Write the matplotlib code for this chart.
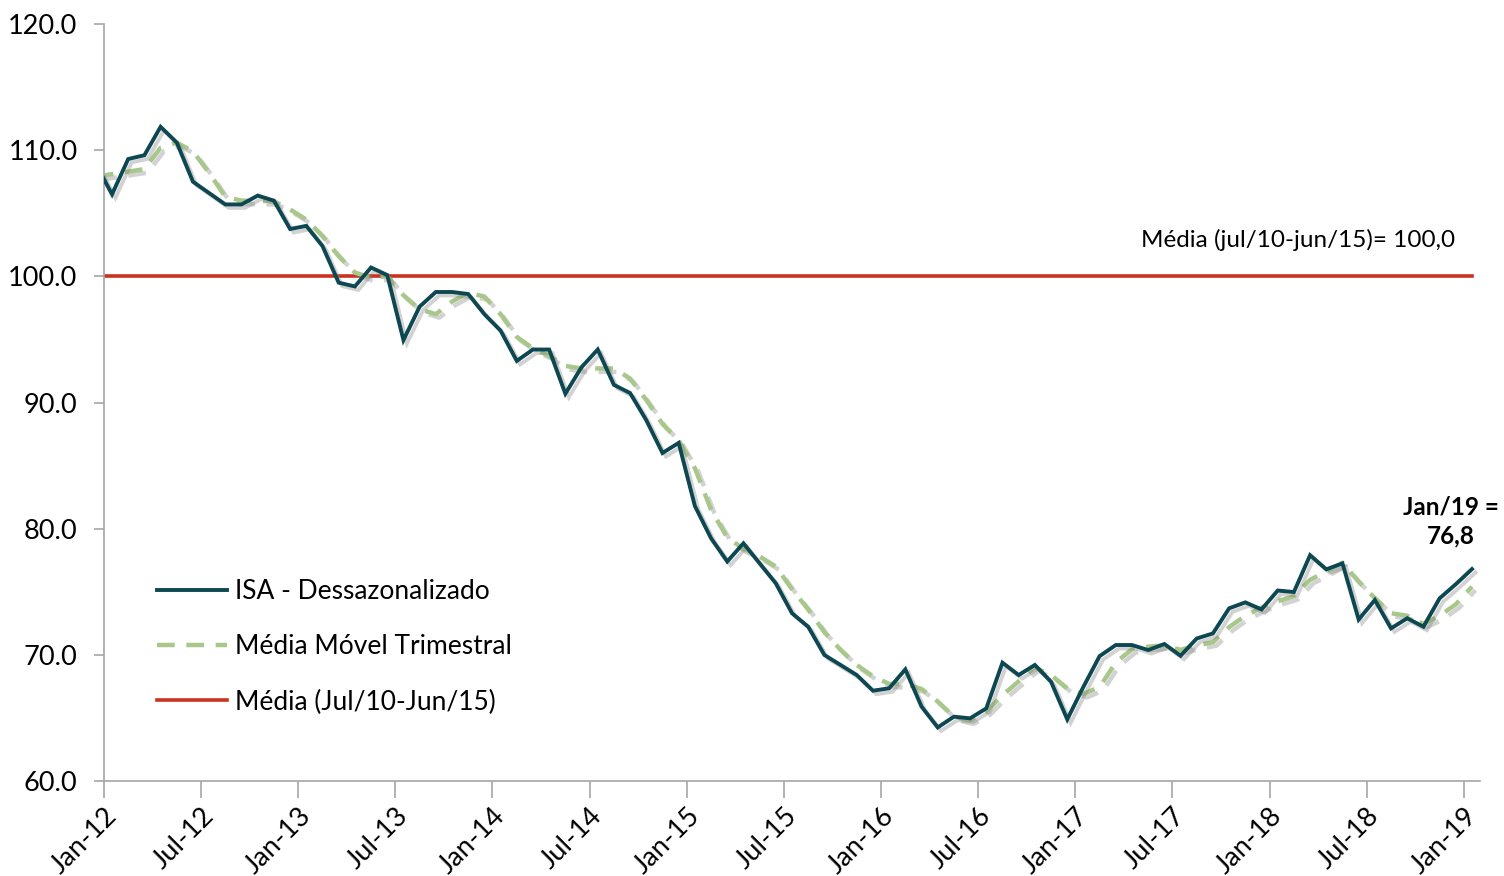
import matplotlib
matplotlib.use("Agg")
import matplotlib.pyplot as plt
import matplotlib.patheffects as pe
import numpy as np

plt.rcParams["font.family"] = ["Lato", "DejaVu Sans"]

# Meses a partir de Dez-11 (o primeiro ponto fica cortado pelo eixo)
isa = [108.9, 106.5, 109.3, 109.6, 111.85, 110.6, 107.5, 106.6, 105.7, 105.7,
       106.4, 106.0, 103.75, 104.0, 102.4, 99.5, 99.2, 100.7, 100.1, 94.95,
       97.6, 98.76, 98.76, 98.6, 97.0, 95.7, 93.3, 94.2, 94.2, 90.7,
       92.8, 94.2, 91.4, 90.75, 88.6, 86.0, 86.8, 81.8, 79.24, 77.4,
       78.84, 77.25, 75.67, 73.3, 72.23, 69.99, 69.2, 68.4, 67.16, 67.35,
       68.85, 65.9, 64.25, 65.1, 64.97, 65.76, 69.38, 68.4, 69.2, 67.87,
       64.89, 67.47, 69.9, 70.78, 70.78, 70.38, 70.86, 69.93, 71.3, 71.7,
       73.69, 74.16, 73.6, 75.1, 74.98, 77.9, 76.78, 77.25, 72.8, 74.35,
       72.1, 72.9, 72.23, 74.48, 75.6, 76.8]
mm3 = [107.9, 108.1, 108.3, 108.5, 110.2, 110.6, 109.9, 108.2, 106.3, 106.0,
       106.0, 105.95, 105.3, 104.5, 103.2, 101.6, 100.3, 99.9, 100.0, 98.5,
       97.4, 97.0, 98.0, 98.7, 98.4, 97.0, 95.2, 94.3, 93.7, 92.9,
       92.7, 92.7, 92.7, 91.9, 90.2, 88.3, 87.0, 84.8, 81.5, 79.3,
       78.4, 77.8, 77.0, 75.2, 73.6, 71.8, 70.4, 69.2, 68.3, 67.7,
       67.7, 67.3, 66.3, 65.1, 64.8, 65.5, 66.8, 67.9, 69.0, 68.4,
       67.35, 66.9, 67.45, 69.4, 70.45, 70.65, 70.75, 70.4, 70.75, 71.0,
       72.2, 73.1, 73.75, 74.25, 74.65, 75.95, 76.6, 77.3, 75.8, 74.5,
       73.3, 73.1, 72.45, 73.1, 74.0, 75.4]
media_ref = 100.0

xtick_labels = ["Jan-12", "Jul-12", "Jan-13", "Jul-13", "Jan-14", "Jul-14",
                "Jan-15", "Jul-15", "Jan-16", "Jul-16", "Jan-17", "Jul-17",
                "Jan-18", "Jul-18", "Jan-19"]
yticks = [60, 70, 80, 90, 100, 110, 120]

C_ISA = "#0D4752"
C_MM = "#A8C78A"
C_RED = "#C9321F"
C_AX = "#A6A6A6"

# posicao: meio do mes (eixo de datas do Excel)
x = np.arange(len(isa)) - 1 + 0.5
n_months = len(isa) - 1

fig = plt.figure(figsize=(15.04, 8.76), dpi=100, facecolor="white")
ax = fig.add_axes([0.0691, 0.1084, 0.915, 0.8642])

shadow = [pe.SimpleLineShadow(offset=(2.5, -2.5), shadow_color="#808080", alpha=0.35),
          pe.Normal()]

ax.axhline(media_ref, xmin=0, xmax=(n_months - 0.5) / n_months, color=C_RED,
           lw=2.6, zorder=2, label="Média (Jul/10-Jun/15)")
l1, = ax.plot(x, isa, color=C_ISA, lw=2.8, zorder=4, solid_joinstyle="miter",
              path_effects=shadow, label="ISA - Dessazonalizado")
l2, = ax.plot(x, mm3, color=C_MM, lw=3.2, ls=(0, (4, 2.6)), zorder=3,
              path_effects=shadow, label="Média Móvel Trimestral")

ax.set_xlim(0, n_months)
ax.set_ylim(60, 120)
ax.set_yticks(yticks)
ax.set_yticklabels([f"{v:.1f}" for v in yticks])
ax.set_xticks(np.arange(0, n_months + 1, 6))
ax.set_xticklabels(xtick_labels, rotation=45, ha="right", rotation_mode="anchor")

for s in ("top", "right"):
    ax.spines[s].set_visible(False)
for s in ("left", "bottom"):
    ax.spines[s].set_color(C_AX)
    ax.spines[s].set_linewidth(1.2)
ax.tick_params(axis="y", length=7, width=1.2, color=C_AX, labelsize=19.5, pad=12)
ax.tick_params(axis="x", length=12, width=1.2, color=C_AX, labelsize=19.5, pad=4)

h, l = ax.get_legend_handles_labels()
order = [l.index("ISA - Dessazonalizado"), l.index("Média Móvel Trimestral"),
         l.index("Média (Jul/10-Jun/15)")]
leg = ax.legend([h[i] for i in order], [l[i] for i in order], loc="upper left",
                bbox_to_anchor=(0.031, 0.281), frameon=False, fontsize=19,
                handlelength=2.65, handletextpad=0.3, labelspacing=1.15,
                borderaxespad=0)
for line in leg.get_lines():
    line.set_path_effects([])

ax.text(0.982, 100.0 + 2.0, "Média (jul/10-jun/15)= 100,0", transform=ax.get_yaxis_transform(),
        ha="right", va="bottom", fontsize=17.5, color="black")
ax.annotate("Jan/19 =\n76,8", xy=(x[-1], isa[-1]), xytext=(x[-1] - 1.3, isa[-1] + 1.7),
            ha="center", va="bottom", fontsize=17.5, fontweight="bold",
            linespacing=1.3, annotation_clip=False)

fig.savefig("out.png", dpi=100, facecolor="white")
